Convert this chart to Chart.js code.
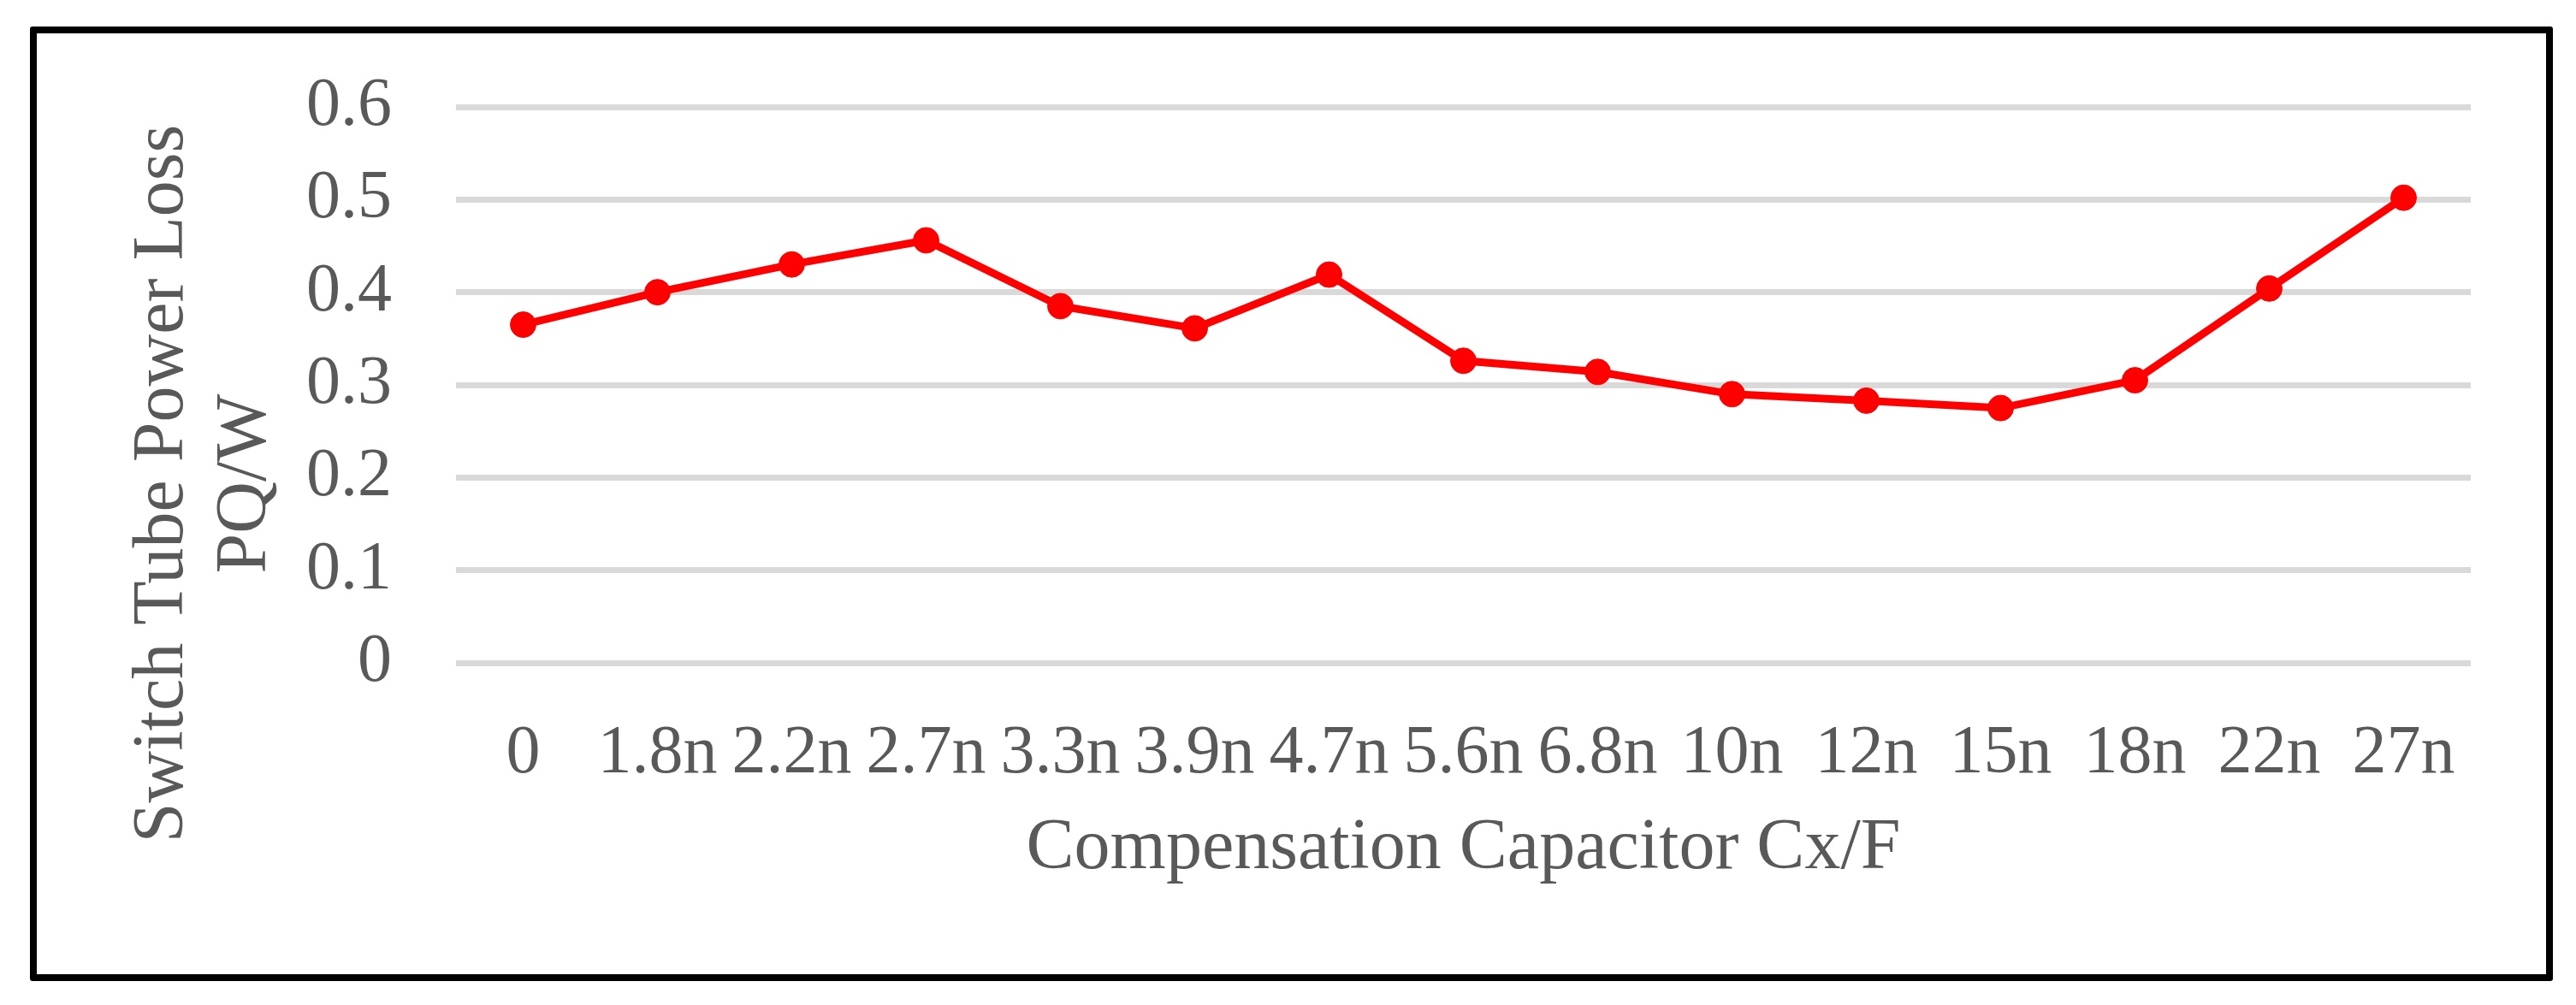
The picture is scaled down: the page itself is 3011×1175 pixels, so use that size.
<!DOCTYPE html>
<html>
<head>
<meta charset="utf-8">
<script src="https://cdn.jsdelivr.net/npm/chart.js@4.4.1/dist/chart.umd.min.js"></script>
<style>
    html, body { margin: 0; padding: 0; background: #fff; }
    #marco {
        position: absolute; left: 35px; top: 31px;
        width: 2949px; height: 1116px;
        box-sizing: border-box;
        border: 8px solid #000; border-radius: 3px;
        pointer-events: none;
    }
    #grafico { position: absolute; left: 0; top: 0; }
</style>
</head>
<body>
<canvas id="grafico" width="3011" height="1175"></canvas>
<div id="marco"></div>
<script>
// capacitores de compensacion (eje x)
const capacitores = ['0', '1.8n', '2.2n', '2.7n', '3.3n', '3.9n', '4.7n', '5.6n', '6.8n', '10n', '12n', '15n', '18n', '22n', '27n'];
// perdida de potencia del tubo conmutador, W
const perdidas = [0.365, 0.400, 0.430, 0.456, 0.385, 0.361, 0.419, 0.326, 0.314, 0.290, 0.283, 0.275, 0.305, 0.404, 0.502];
// etiquetas del eje y
const etiquetasY = ['0', '0.1', '0.2', '0.3', '0.4', '0.5', '0.6'];

const tituloX = 'Compensation Capacitor Cx/F';
const tituloY = ['Switch Tube Power Loss', 'PQ/W'];

const gris = '#595959';
const fuente = '"Liberation Serif", "Times New Roman", serif';
// espacios al final para bajar el titulo vertical como en el original
const relleno = '\u00A0'.repeat(11);

let ctx = document.getElementById('grafico').getContext('2d');

let miGrafico = new Chart(ctx, {
    type: 'line',
    data: {
        labels: capacitores,
        datasets: [{
            data: perdidas,
            borderColor: '#ff0000',
            backgroundColor: '#ff0000',
            borderWidth: 9,
            pointRadius: 15,
            pointBorderWidth: 1,
            pointBorderColor: '#ff0000',
            pointBackgroundColor: '#ff0000',
            tension: 0
        }]
    },
    options: {
        responsive: false,
        animation: false,
        devicePixelRatio: 1,
        layout: { padding: { left: 0, right: 123, top: 125, bottom: 0 } },
        plugins: { legend: { display: false }, tooltip: { enabled: false } },
        scales: {
            x: {
                offset: true,
                grid: { display: false },
                border: { display: false },
                ticks: {
                    color: gris,
                    font: { family: fuente, size: 80 },
                    padding: 51,
                    autoSkip: false,
                    maxRotation: 0
                },
                title: {
                    display: true,
                    text: tituloX,
                    color: gris,
                    font: { family: fuente, size: 84, lineHeight: 1.15 },
                    padding: { top: 0, bottom: 134 }
                },
                afterFit: (s) => { s.height = 400; }
            },
            y: {
                min: 0,
                max: 0.6,
                grid: { color: '#d9d9d9', lineWidth: 7, drawTicks: false },
                border: { display: false },
                ticks: {
                    stepSize: 0.1,
                    color: gris,
                    font: { family: fuente, size: 80 },
                    padding: 75,
                    callback: (v, i) => etiquetasY[i]
                },
                title: {
                    display: true,
                    text: tituloY.map(t => t + relleno),
                    color: gris,
                    font: { family: fuente, size: 84, lineHeight: 1.15 },
                    padding: { top: 143, bottom: 0 }
                },
                afterFit: (s) => { s.width = 533; }
            }
        }
    }
});
</script>
</body>
</html>
